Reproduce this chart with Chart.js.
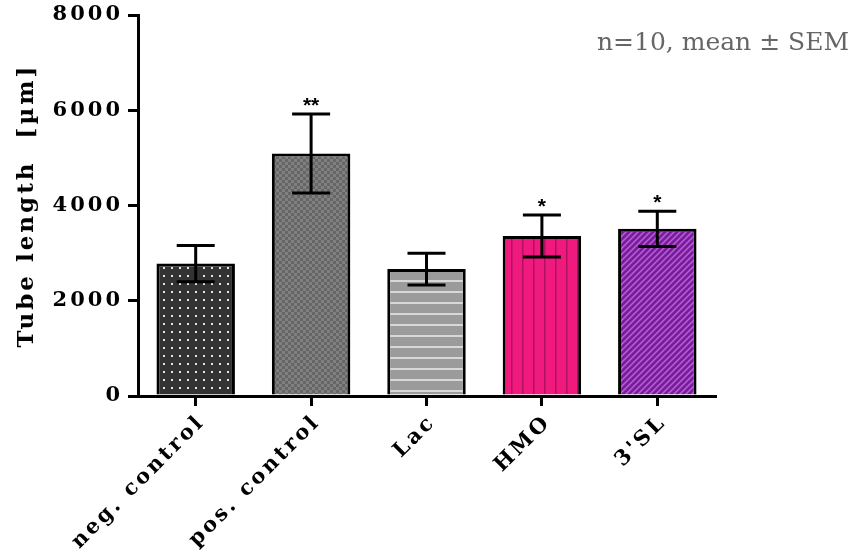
<!DOCTYPE html>
<html>
<head>
<meta charset="utf-8">
<script src="https://cdn.jsdelivr.net/npm/chart.js@4/dist/chart.umd.min.js"></script>
<style>
  html, body { margin: 0; padding: 0; background: #fff; }
  #wrap { width: 853px; height: 554px; }
</style>
</head>
<body>
<div id="wrap"><canvas id="c" width="853" height="554"></canvas></div>
<script>
// Tube length per treatment (mean and SEM, n=10)
const categories = ['neg. control', 'pos. control', 'Lac', 'HMO', "3'SL"];
const means = [2780, 5090, 2665, 3360, 3510];
const sem = [380, 830, 335, 440, 370];
const significance = ['', '**', '', '*', '*'];
const yTicks = [0, 2000, 4000, 6000, 8000];
const yTickLabels = ['0', '2000', '4000', '6000', '8000'];
const yTitle = 'Tube length  [\u00b5m]';
const note = 'n=10, mean \u00b1 SEM';

const canvas = document.getElementById('c');
const ctx0 = canvas.getContext('2d');

// small repeating tiles used as bar fills
function tile(w, h, paint) {
  const t = document.createElement('canvas');
  t.width = w; t.height = h;
  paint(t.getContext('2d'), w, h);
  return ctx0.createPattern(t, 'repeat');
}
const fills = [
  tile(8, 8, (g, w, h) => { g.fillStyle = '#333'; g.fillRect(0, 0, w, h); g.fillStyle = '#e6e6e6'; g.fillRect(3, 3, 2, 2); }),
  tile(6, 6, (g, w, h) => { g.fillStyle = '#808080'; g.fillRect(0, 0, w, h); g.fillStyle = '#666'; g.fillRect(0, 0, 3, 3); g.fillRect(3, 3, 3, 3); }),
  tile(11, 11, (g, w, h) => { g.fillStyle = '#9b9b9b'; g.fillRect(0, 0, w, h); g.fillStyle = '#d8d8d8'; g.fillRect(0, 5, w, 2); }),
  tile(11, 11, (g, w, h) => { g.fillStyle = '#f0197d'; g.fillRect(0, 0, w, h); g.fillStyle = '#b01260'; g.fillRect(5, 0, 1.5, h); }),
  tile(6, 6, (g, w, h) => {
    g.fillStyle = '#7a1c9c'; g.fillRect(0, 0, w, h);
    g.strokeStyle = '#b463d6'; g.lineWidth = 1.5;
    g.beginPath();
    g.moveTo(-1, h + 1); g.lineTo(w + 1, -1);
    g.moveTo(-1, 1); g.lineTo(1, -1);
    g.moveTo(w - 1, h + 1); g.lineTo(w + 1, h - 1);
    g.stroke();
  })
];

const TRACK = '3px';

const spacingPlugin = {
  id: 'spacing',
  beforeLayout(chart) { chart.ctx.letterSpacing = TRACK; },
  beforeDraw(chart) { chart.ctx.letterSpacing = TRACK; }
};

const errorBarPlugin = {
  id: 'errorBars',
  afterDatasetsDraw(chart) {
    const { ctx, scales: { x, y } } = chart;
    ctx.save();
    ctx.strokeStyle = '#000';
    ctx.lineWidth = 3;
    ctx.lineCap = 'butt';
    means.forEach((m, i) => {
      const cx = x.getPixelForValue(i);
      const top = y.getPixelForValue(m + sem[i]);
      const bot = y.getPixelForValue(m - sem[i]);
      ctx.beginPath();
      ctx.moveTo(cx, top); ctx.lineTo(cx, bot);
      ctx.moveTo(cx - 19, top); ctx.lineTo(cx + 19, top);
      ctx.moveTo(cx - 19, bot); ctx.lineTo(cx + 19, bot);
      ctx.stroke();
      if (significance[i]) {
        ctx.letterSpacing = '0px';
        ctx.fillStyle = '#000';
        ctx.font = 'bold 21px "Liberation Sans", Arial, sans-serif';
        ctx.textAlign = 'center';
        ctx.textBaseline = 'alphabetic';
        ctx.fillText(significance[i], cx, top - 2);
      }
    });
    ctx.restore();
  },
  afterDraw(chart) {
    const ctx = chart.ctx;
    ctx.save();
    ctx.letterSpacing = '0px';
    ctx.fillStyle = '#666';
    ctx.font = '25px "DejaVu Serif", serif';
    ctx.textAlign = 'right';
    ctx.textBaseline = 'alphabetic';
    ctx.fillText(note, 849, 50);
    ctx.restore();
  }
};

new Chart(canvas, {
  type: 'bar',
  data: {
    labels: categories,
    datasets: [{
      data: means,
      backgroundColor: fills,
      borderColor: '#000',
      borderWidth: 3,
      borderSkipped: 'bottom',
      categoryPercentage: 1,
      barPercentage: 0.68
    }]
  },
  options: {
    responsive: false,
    animation: false,
    devicePixelRatio: 1,
    layout: { padding: { top: 15, right: 138, left: 0, bottom: 0 } },
    plugins: { legend: { display: false }, tooltip: { enabled: false } },
    scales: {
      x: {
        grid: { offset: false, drawOnChartArea: false, drawTicks: true, tickLength: 10, color: '#000', lineWidth: 3 },
        border: { color: '#000', width: 3 },
        ticks: { color: '#000', font: { family: '"DejaVu Serif", serif', weight: 'bold', size: 21 }, minRotation: 45, maxRotation: 45, padding: 4, labelOffset: 6 },
        afterFit(s) { s.height = 158; s.paddingLeft = 0; s.paddingRight = 0; }
      },
      y: {
        min: 0, max: 8000,
        afterBuildTicks(s) { s.ticks = yTicks.map(v => ({ value: v })); },
        grid: { drawOnChartArea: false, drawTicks: true, tickLength: 10, color: '#000', lineWidth: 3 },
        border: { color: '#000', width: 3 },
        ticks: {
          color: '#000',
          font: { family: '"DejaVu Serif", serif', weight: 'bold', size: 21 },
          padding: 5,
          callback: (v) => yTickLabels[yTicks.indexOf(v)]
        },
        title: { display: true, text: yTitle, color: '#000', font: { family: '"DejaVu Serif", serif', weight: 'bold', size: 23 }, padding: { top: 13, bottom: 0 } },
        afterFit(s) { s.width = 138; s.paddingTop = 0; s.paddingBottom = 0; }
      }
    }
  },
  plugins: [spacingPlugin, errorBarPlugin]
});
</script>
</body>
</html>
